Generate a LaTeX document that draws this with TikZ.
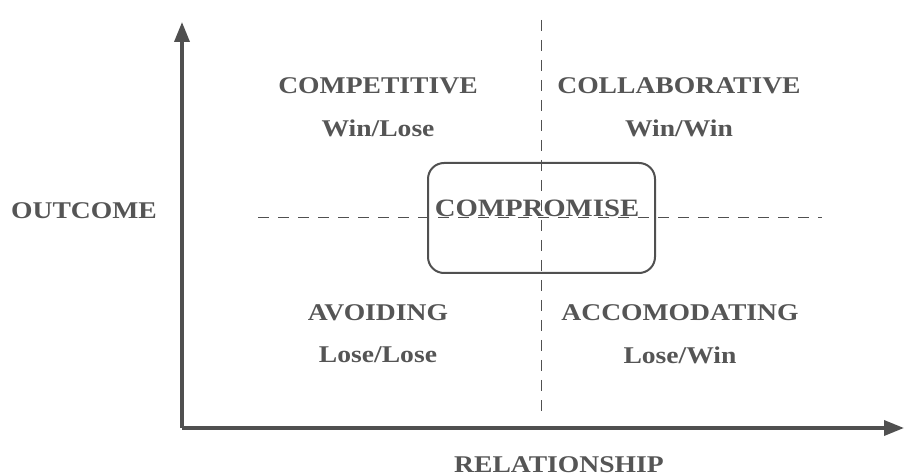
\documentclass[tikz,border=0pt]{standalone}
\usepackage{fontspec}
\setmainfont[FakeStretch=1.15]{Liberation Serif}
\usetikzlibrary{arrows.meta,positioning}
\definecolor{axisGray}{HTML}{505050}
\definecolor{textGray}{HTML}{555555}

\begin{document}
\begin{tikzpicture}[x=1pt, y=-1pt,
  stylelbl/.style={text=textGray, font=\fontsize{24}{28}\selectfont\bfseries, inner sep=0pt},
  axisline/.style={axisGray, line width=3.5pt, -{Triangle[length=20pt,width=15pt]}},
  guideline/.style={axisGray, line width=1pt, dash pattern=on 11pt off 9pt}]
\useasboundingbox (0,0) rectangle (906,473);
% ---------- axes ----------
\coordinate (origin) at (182,428);
\coordinate (ytop) at (182,22);
\coordinate (xend) at (904,428);
\draw[axisline] (origin) -- (ytop);
\draw[axisline] (origin) -- (xend);
\node[stylelbl] (outcome) at (84,211) {OUTCOME};
\node[stylelbl, anchor=north] (relation) at (559,456) {RELATIONSHIP};
% ---------- dashed quadrant lines ----------
\coordinate (vtop) at (541,20);
\coordinate (vbot) at (541,415);
\coordinate (hleft) at (258,218);
\coordinate (hright) at (822,218);
\draw[guideline] (vtop) -- (vbot);
\draw[guideline] (hleft) -- (hright);
% ---------- quadrants ----------
\node[stylelbl] (competitive) at (378,86) {COMPETITIVE};
\node[stylelbl, below=42pt of competitive.center, anchor=center] (winlose) {Win/Lose};
\node[stylelbl] (collab) at (679,86) {COLLABORATIVE};
\node[stylelbl, below=42pt of collab.center, anchor=center] (winwin) {Win/Win};
\node[stylelbl] (avoiding) at (378,313) {AVOIDING};
\node[stylelbl, below=42pt of avoiding.center, anchor=center] (loselose) {Lose/Lose};
\node[stylelbl] (accom) at (680,313) {ACCOMODATING};
\node[stylelbl, below=42pt of accom.center, anchor=center] (losewin) {Lose/Win};
% ---------- compromise ----------
\node[draw=axisGray, line width=2pt, rounded corners=16pt,
  minimum width=227pt, minimum height=110pt] (cbox) at (541.5,218) {};
\node[stylelbl, font=\fontsize{25}{28}\selectfont\bfseries] (compromise) at (537,208) {COMPROMISE};
\end{tikzpicture}
\end{document}
